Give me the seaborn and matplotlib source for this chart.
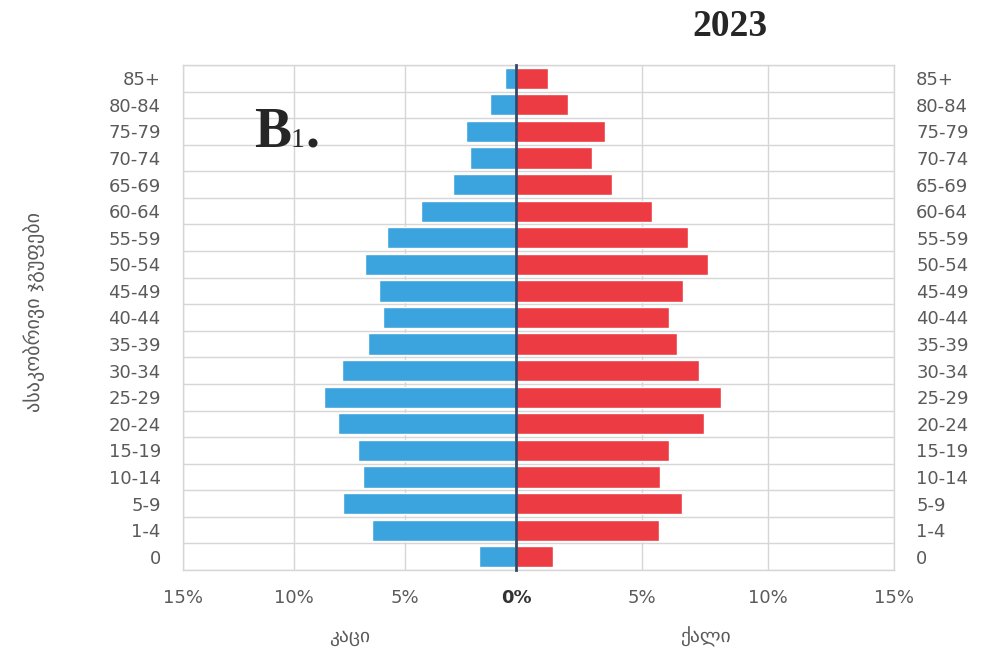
import numpy as np
import pandas as pd
import seaborn as sns
import matplotlib.pyplot as plt

# population pyramid, 2023 (% of total)
age_groups = ['85+', '80-84', '75-79', '70-74', '65-69', '60-64', '55-59', '50-54',
              '45-49', '40-44', '35-39', '30-34', '25-29', '20-24', '15-19', '10-14',
              '5-9', '1-4', '0']
male = [0.5, 1.17, 2.25, 2.07, 2.84, 4.28, 5.8, 6.8, 6.17, 6.0, 6.67, 7.85, 8.65,
        8.0, 7.1, 6.9, 7.8, 6.5, 1.67]
female = [1.25, 2.06, 3.53, 3.0, 3.8, 5.4, 6.83, 7.62, 6.63, 6.07, 6.4, 7.26, 8.13,
          7.46, 6.07, 5.71, 6.6, 5.67, 1.47]
left_ticks = [15, 10, 5, 0]
right_ticks = [0, 5, 10, 15]

df = pd.DataFrame({'age': age_groups, 'male': male, 'female': female})

sns.set_style('white')
plt.rcParams['font.family'] = ['DejaVu Sans', 'Noto Sans']

blue = '#3ba3dd'
red = '#ec3b43'
grid_c = '#d6d6d6'
center_c = '#34496a'
tick_c = '#5a5a5a'

W, H = 1005, 651
fig = plt.figure(figsize=(W / 100, H / 100), dpi=100)
axL = fig.add_axes([183 / W, 1 - 570 / H, (516 - 183) / W, 505 / H])
axR = fig.add_axes([516 / W, 1 - 570 / H, (894 - 516) / W, 505 / H])

sns.barplot(data=df, x='male', y='age', order=age_groups, orient='h', color=blue,
            saturation=1, width=0.8, ax=axL)
sns.barplot(data=df, x='female', y='age', order=age_groups, orient='h', color=red,
            saturation=1, width=0.8, ax=axR)

axL.set_xlim(15, 0)
axR.set_xlim(0, 15)

for ax in (axL, axR):
    ax.set_axisbelow(True)
    ax.set_yticks(np.arange(-0.5, len(age_groups), 1), minor=True)
    ax.grid(which='minor', axis='y', color=grid_c, lw=1)
    ax.grid(which='major', axis='x', color=grid_c, lw=1)
    ax.tick_params(which='both', length=0, labelsize=13, labelcolor=tick_c)
    ax.tick_params(axis='y', pad=16)
    ax.tick_params(axis='x', pad=14)
    for s in ax.spines.values():
        s.set_color(grid_c)
        s.set_linewidth(1)
    ax.set_ylabel('')

axL.set_xticks(left_ticks, [f'{t}%' for t in left_ticks])
axR.set_xticks(right_ticks, ['' if t == 0 else f'{t}%' for t in right_ticks])
for lab in axL.get_xticklabels():
    if lab.get_text() == '0%':
        lab.set_fontweight('bold')
        lab.set_color('#333333')

axL.set_yticks(range(len(age_groups)), age_groups)
axR.set_yticks(range(len(age_groups)), age_groups)
axR.yaxis.tick_right()

# center line drawn on the right axes so the red bars don't hide it
axL.spines['right'].set_visible(False)
axR.spines['left'].set_color(center_c)
axR.spines['left'].set_linewidth(2)
axR.spines['left'].set_zorder(5)

axL.set_xlabel('კაცი', fontsize=14, color=tick_c, labelpad=14)
axR.set_xlabel('ქალი', fontsize=14, color=tick_c, labelpad=14)
fig.text(34 / W, 1 - 312 / H, 'ასაკობრივი ჯგუფები', rotation=90, fontsize=14.5,
         color=tick_c, ha='center', va='center')

fig.text(730 / W, 1 - 27 / H, '2023', family='Liberation Serif', weight='bold',
         fontsize=27, ha='center', va='center')
fig.text(254 / W, 1 - 147 / H, 'B', family='Liberation Serif', weight='bold',
         fontsize=40, ha='left', va='baseline')
fig.text(291 / W, 1 - 147 / H, '1', family='Liberation Serif', fontsize=20,
         ha='left', va='baseline')
fig.text(306 / W, 1 - 147 / H, '.', family='Liberation Serif', weight='bold',
         fontsize=40, ha='left', va='baseline')

fig.savefig('out.png', dpi=100, facecolor='white')
